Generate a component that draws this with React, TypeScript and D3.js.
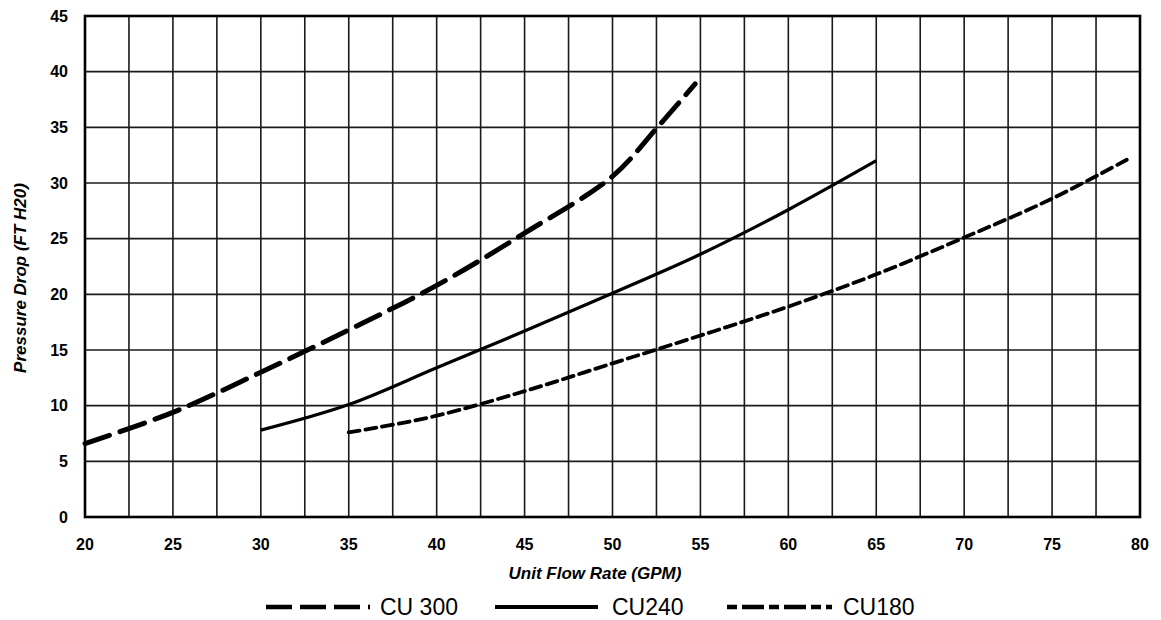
import { useEffect, useRef } from "react";
import * as d3 from "d3";

// Series (x = GPM, y = FT H2O)
const cu300X = [20, 25, 30, 35, 40, 45, 50, 52.5, 54.7];
const cu300Y = [6.6, 9.4, 13.0, 16.8, 20.8, 25.5, 30.6, 34.9, 38.9];
const cu240X = [30, 35, 40, 45, 50, 55, 60, 65];
const cu240Y = [7.8, 10.1, 13.4, 16.7, 20.1, 23.6, 27.6, 32];
const cu180X = [35, 36.5, 40, 45, 50, 55, 60, 65, 70, 75, 79.5];
const cu180Y = [7.6, 8.0, 9.1, 11.3, 13.8, 16.3, 18.9, 21.8, 25.1, 28.6, 32.3];

const xTicks = [20, 25, 30, 35, 40, 45, 50, 55, 60, 65, 70, 75, 80];
const yTicks = [0, 5, 10, 15, 20, 25, 30, 35, 40, 45];
const seriesNames = ["CU 300", "CU240", "CU180"];

export default function App() {
    const svgRef = useRef<SVGSVGElement | null>(null);

    useEffect(() => {
        if (!svgRef.current) return;
        const root = d3.select(svgRef.current);
        root.selectAll("*").remove();

        const width = 1161;
        const height = 620;
        const left = 85, right = 1140, top = 16, bottom = 517;
        const font = "'Liberation Sans', Arial, sans-serif";

        const x = d3.scaleLinear().domain([20, 80]).range([left, right]);
        const y = d3.scaleLinear().domain([0, 45]).range([bottom, top]);

        root.attr("width", width).attr("height", height);
        root.append("rect").attr("width", width).attr("height", height).attr("fill", "#fff");

        const g = root.append("g");

        // grid: vertical every 2.5 GPM, horizontal every 5 ft
        const vGrid = d3.range(22.5, 80, 2.5);
        g.selectAll(".vg")
            .data(vGrid)
            .enter()
            .append("line")
            .attr("x1", (d) => x(d))
            .attr("x2", (d) => x(d))
            .attr("y1", top)
            .attr("y2", bottom)
            .attr("stroke", "#1a1a1a")
            .attr("stroke-width", 1.6);

        g.selectAll(".hg")
            .data(yTicks.slice(1, -1))
            .enter()
            .append("line")
            .attr("x1", left)
            .attr("x2", right)
            .attr("y1", (d) => y(d))
            .attr("y2", (d) => y(d))
            .attr("stroke", "#1a1a1a")
            .attr("stroke-width", 1.6);

        // frame
        g.append("rect")
            .attr("x", left)
            .attr("y", top)
            .attr("width", right - left)
            .attr("height", bottom - top)
            .attr("fill", "none")
            .attr("stroke", "#000")
            .attr("stroke-width", 2.6);

        // tick labels
        g.selectAll(".yt")
            .data(yTicks)
            .enter()
            .append("text")
            .attr("x", 68)
            .attr("y", (d) => y(d))
            .attr("dy", "0.36em")
            .attr("text-anchor", "end")
            .attr("font-family", font)
            .attr("font-weight", "bold")
            .attr("font-size", "16px")
            .text((d) => d);

        g.selectAll(".xt")
            .data(xTicks)
            .enter()
            .append("text")
            .attr("x", (d) => x(d))
            .attr("y", 544)
            .attr("dy", "0.36em")
            .attr("text-anchor", "middle")
            .attr("font-family", font)
            .attr("font-weight", "bold")
            .attr("font-size", "16px")
            .text((d) => d);

        // axis titles
        g.append("text")
            .attr("x", 595)
            .attr("y", 573)
            .attr("dy", "0.36em")
            .attr("text-anchor", "middle")
            .attr("font-family", font)
            .attr("font-weight", "bold")
            .attr("font-style", "italic")
            .attr("font-size", "17px")
            .text("Unit Flow Rate (GPM)");

        g.append("text")
            .attr("transform", "translate(20,278) rotate(-90)")
            .attr("dy", "0.36em")
            .attr("text-anchor", "middle")
            .attr("font-family", font)
            .attr("font-weight", "bold")
            .attr("font-style", "italic")
            .attr("font-size", "17px")
            .text("Pressure Drop (FT H20)");

        // curves
        const line = d3
            .line<[number, number]>()
            .x((d) => x(d[0]))
            .y((d) => y(d[1]))
            .curve(d3.curveCatmullRom.alpha(0.5));

        const series = [
            { xs: cu300X, ys: cu300Y, dash: "26,11", w: 5 },
            { xs: cu240X, ys: cu240Y, dash: null, w: 3.2 },
            { xs: cu180X, ys: cu180Y, dash: "11,6", w: 3.8 },
        ];

        series.forEach((s) => {
            const pts = s.xs.map((v, i) => [v, s.ys[i]] as [number, number]);
            g.append("path")
                .attr("d", line(pts) as string)
                .attr("fill", "none")
                .attr("stroke", "#000")
                .attr("stroke-width", s.w)
                .attr("stroke-dasharray", s.dash)
                .attr("stroke-linecap", s.dash ? "round" : "butt");
        });

        // legend
        const legendY = 607;
        const legendItems = [
            { x1: 266, x2: 370, tx: 380, dash: "26,8", w: 4.5 },
            { x1: 495, x2: 598, tx: 612, dash: null, w: 4 },
            { x1: 727, x2: 832, tx: 843, dash: "10,5,22,5", w: 4.5 },
        ];
        legendItems.forEach((it, i) => {
            g.append("line")
                .attr("x1", it.x1)
                .attr("x2", it.x2)
                .attr("y1", legendY)
                .attr("y2", legendY)
                .attr("stroke", "#000")
                .attr("stroke-width", it.w)
                .attr("stroke-dasharray", it.dash);
            g.append("text")
                .attr("x", it.tx)
                .attr("y", legendY)
                .attr("dy", "0.36em")
                .attr("font-family", font)
                .attr("font-size", "23px")
                .text(seriesNames[i]);
        });
    }, []);

    return (
        <div style={{ position: "fixed", left: 0, top: 0 }}>
            <svg ref={svgRef} style={{ display: "block" }} />
        </div>
    );
}
